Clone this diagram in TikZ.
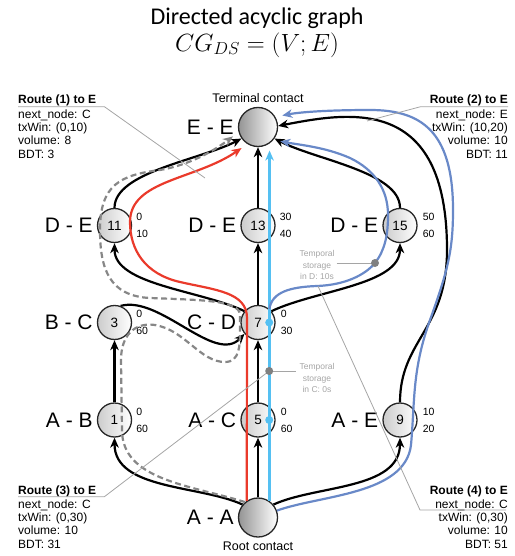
\documentclass[tikz,border=0pt]{standalone}
\usepackage{fontspec}
\setmainfont{Liberation Sans}
\newfontfamily\titlefont{Carlito}
\usetikzlibrary{positioning,backgrounds,arrows.meta}
\definecolor{figRed}{RGB}{234,58,43}
\definecolor{figCyan}{RGB}{85,192,242}
\definecolor{figBlue}{RGB}{105,137,200}
\definecolor{figDash}{RGB}{135,135,135}
\definecolor{figNote}{RGB}{165,165,165}

\begin{document}
\begin{tikzpicture}[
  x=1pt, y=1pt, every node/.style={inner sep=0pt},
  contact/.style={circle, draw=black!85, line width=1.3pt, minimum size=34pt,
                  left color=black!20, right color=white, font=\fontsize{13.5}{15}\selectfont},
  endpoint/.style={contact, minimum size=39pt, left color=black!42},
  pair/.style={font=\fontsize{21}{24}\selectfont},
  win/.style={font=\fontsize{10.5}{17}\selectfont, align=left, anchor=west},
  flow/.style={line width=2.2pt, -{Stealth[length=10pt,width=8.5pt,inset=3pt]}},
  route/.style={line width=2.2pt, shorten >=7pt, -{Stealth[length=10pt,width=8.5pt,inset=3pt]}},
  rhead/.style={font=\fontsize{12}{13.4}\selectfont\bfseries},
  rbody/.style={font=\fontsize{12}{13.4}\selectfont},
  leader/.style={draw=figNote, line width=0.8pt},
  store/.style={font=\fontsize{8.5}{11.5}\selectfont, text=figNote, align=center},
  sdot/.style={circle, fill=#1, minimum size=8pt}
]
\useasboundingbox (0,0) rectangle (514,-556);

\node[font=\titlefont\fontsize{24}{28}\selectfont] (title) at (257,-18) {Directed acyclic graph};
\node[font=\fontsize{23}{26}\selectfont] (formula) at (257,-45) {$CG_{DS}=(V;E)$};

% contacts
\node[endpoint] (EE) at (258,-127) {};
\node[contact] (n11) at (114.5,-225.5) {11};
\node[contact] (n13) at (258,-225.5) {13};
\node[contact] (n15) at (400,-225.5) {15};
\node[contact] (n3) at (114.5,-322.5) {3};
\node[contact] (n7) at (258,-322.5) {7};
\node[contact] (n1) at (114.5,-420) {1};
\node[contact] (n5) at (258,-420) {5};
\node[contact] (n9) at (400,-420) {9};
\node[endpoint] (AA) at (258,-517.5) {};

\node[pair, left=4pt of EE] (lEE) {E - E};
\node[pair, left=4pt of n11] (l11) {D - E};
\node[pair, left=4pt of n13] (l13) {D - E};
\node[pair, left=4pt of n15] (l15) {D - E};
\node[pair, left=4pt of n3] (l3) {B - C};
\node[pair, left=4pt of n7] (l7) {C - D};
\node[pair, left=4pt of n1] (l1) {A - B};
\node[pair, left=4pt of n5] (l5) {A - C};
\node[pair, left=4pt of n9] (l9) {A - E};
\node[pair, left=4pt of AA] (lAA) {A - A};

\node[win] (w11) at ([xshift=4pt]n11.east) {0\\10};
\node[win] (w13) at ([xshift=4pt]n13.east) {30\\40};
\node[win] (w15) at ([xshift=5pt]n15.east) {50\\60};
\node[win] (w3) at ([xshift=4pt]n3.east) {0\\60};
\node[win] (w7) at ([xshift=5pt]n7.east) {0\\30};
\node[win] (w1) at ([xshift=4pt]n1.east) {0\\60};
\node[win] (w5) at ([xshift=5pt]n5.east) {0\\60};
\node[win] (w9) at ([xshift=5pt]n9.east) {10\\20};

\node[font=\fontsize{12.5}{15}\selectfont, above=4pt of EE] (term) {Terminal contact};
\node[font=\fontsize{12.5}{15}\selectfont, below=4pt of AA] (root) {Root contact};

\begin{scope}[on background layer]
  \draw[flow] (AA.140) .. controls (200,-485) and (114.5,-490) .. (n1.south);
  \draw[flow] (AA.north) -- (n5.south);
  \draw[flow] (AA.40) .. controls (316,-485) and (400,-490) .. (n9.south);
  \draw[flow] (n1.north) -- (n3.south);
  \draw[flow] (n5.north) -- (n7.south);
  \draw[flow] (n3.70) .. controls (160,-295) and (215,-365) .. (n7.220);
  \draw[flow] (n7.140) .. controls (200,-290) and (114.5,-285) .. (n11.south);
  \draw[flow] (n7.north) -- (n13.south);
  \draw[flow] (n7.40) .. controls (316,-290) and (400,-285) .. (n15.south);
  \draw[flow] (n11.north) .. controls (114.5,-172) and (200,-160) .. (EE.215);
  \draw[flow] (n13.north) -- (EE.south);
  \draw[flow] (n15.north) .. controls (400,-172) and (316,-160) .. (EE.-35);
  \draw[flow] (n9.north) .. controls (400,-340) and (447,-330) .. (447,-250)
        .. controls (447,-95) and (350,-112) .. (EE.3);
\end{scope}

% routes
\draw[route, figDash, dash pattern=on 6pt off 3.5pt] (AA.130)
      .. controls (190,-485) and (122,-480) .. (122,-430) -- (121,-360)
      .. controls (121,-335) and (135,-322) .. (155,-325)
      .. controls (185,-330) and (200,-362) .. (225,-362)
      .. controls (240,-362) and (240,-345) .. (240,-330) -- (240,-315)
      .. controls (240,-300) and (200,-300) .. (150,-298)
      .. controls (110,-296) and (100,-270) .. (100,-230)
      .. controls (100,-185) and (120,-175) .. (160,-170)
      .. controls (190,-165) and (215,-150) .. (EE.195);
\draw[route, figRed] (AA.124) -- (247,-318)
      .. controls (247,-292) and (215,-290) .. (180,-282)
      .. controls (145,-274) and (130,-250) .. (130,-222)
      .. controls (130,-180) and (195,-180) .. (EE.238);
\draw[route, figCyan] (AA.55) -- (EE.-55);
\draw[route, figBlue] (n7.50) .. controls (272,-292) and (290,-287) .. (317,-286)
      .. controls (345,-285) and (365,-275) .. (375,-263)
      .. controls (385,-250) and (388,-235) .. (388,-215)
      .. controls (388,-190) and (375,-170) .. (350,-158)
      .. controls (325,-147) and (300,-145) .. (EE.-40);
\draw[route, figBlue] (AA.20) .. controls (320,-495) and (405,-495) .. (411,-445)
      .. controls (415,-400) and (412,-370) .. (430,-320)
      .. controls (448,-270) and (453,-250) .. (453,-210)
      .. controls (453,-130) and (420,-110) .. (370,-110)
      .. controls (330,-110) and (300,-112) .. (EE.30);

% temporal storage
\coordinate (dotC) at (269.2,-371);
\coordinate (dotD) at (375,-263);
\node[store] (tsC) at (317,-378) {Temporal\\storage\\in C: 0s};
\node[store] (tsD) at (317,-265) {Temporal\\storage\\in D: 10s};
\draw[leader] (dotC) -- ([xshift=-3pt]dotC -| tsC.west);
\draw[leader] ([xshift=2pt]tsD.east |- dotD) -- (dotD);

% route notes
\node[rhead, anchor=base west] (r1head) at (18,-104) {Route (1) to E};
\node[rbody, align=left, anchor=north west] (r1body) at ([yshift=-2.5pt]r1head.south west)
     {next\_node: C\\txWin: (0,10)\\volume: 8\\BDT: 3};
\node[rhead, anchor=base east] (r2head) at (508,-104) {Route (2) to E};
\node[rbody, align=right, anchor=north east] (r2body) at ([yshift=-2.5pt]r2head.south east)
     {next\_node: E\\txWin: (10,20)\\volume: 10\\BDT: 11};
\node[rhead, anchor=base west] (r3head) at (18,-494) {Route (3) to E};
\node[rbody, align=left, anchor=north west] (r3body) at ([yshift=-2.5pt]r3head.south west)
     {next\_node: C\\txWin: (0,30)\\volume: 10\\BDT: 31};
\node[rhead, anchor=base east] (r4head) at (508,-494) {Route (4) to E};
\node[rbody, align=right, anchor=north east] (r4body) at ([yshift=-2.5pt]r4head.south east)
     {next\_node: C\\txWin: (0,30)\\volume: 10\\BDT: 51};

\coordinate (r1end) at (205,-178);
\coordinate (r2end) at (367,-121);
\coordinate (r4a) at (506,-510);
\coordinate (r4b) at (420,-510);
\coordinate (r4end) at (318,-286);
\draw[leader] (r1head.south west) -- ([xshift=8pt]r1head.south east) -- (r1end);
\draw[leader] (r2head.south east) -- ([xshift=-9pt]r2head.south west) -- (r2end);
\draw[leader] (r3head.south west) -- ([xshift=8pt]r3head.south east) -- (dotC);
\draw[leader] (r4a) -- (r4b) -- (r4end);

\node[sdot=figCyan] (c7) at (269.2,-322.5) {};
\node[sdot=figCyan] (c5) at (269.2,-420) {};
\node[sdot=black!50] (sC) at (dotC) {};
\node[sdot=black!50] (sD) at (dotD) {};
\end{tikzpicture}
\end{document}
